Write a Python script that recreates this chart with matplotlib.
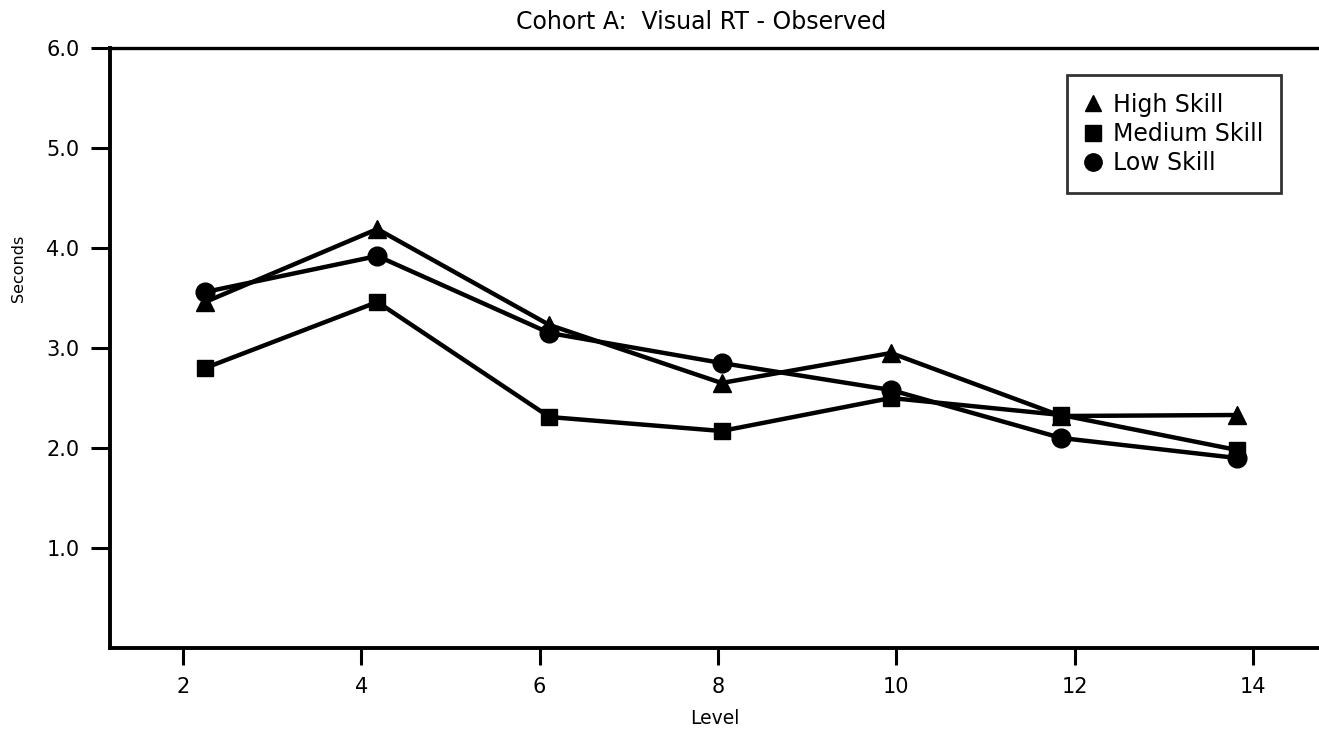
import matplotlib
matplotlib.use("Agg")
import matplotlib.pyplot as plt
from matplotlib.lines import Line2D

# values (x positions as drawn)
level_pos = [2.25, 4.18, 6.11, 8.04, 9.94, 11.85, 13.82]
high_skill = [3.46, 4.19, 3.23, 2.65, 2.95, 2.32, 2.33]
medium_skill = [2.80, 3.46, 2.31, 2.17, 2.50, 2.33, 1.98]
low_skill = [3.56, 3.92, 3.15, 2.85, 2.58, 2.10, 1.90]

x_ticks = [2, 4, 6, 8, 10, 12, 14]
y_ticks = [1, 2, 3, 4, 5, 6]
y_labels = ["1.0", "2.0", "3.0", "4.0", "5.0", "6.0"]

plt.rcParams['font.family'] = ['DejaVu Sans']

W, H = 1319, 730
fig = plt.figure(figsize=(W / 100, H / 100), dpi=100)
ax = fig.add_axes([110 / W, 82 / H, (W - 110) / W, 600 / H])

lw = 3.2
ax.plot(level_pos, high_skill, color='black', lw=lw, marker='^', ms=13, zorder=3)
ax.plot(level_pos, medium_skill, color='black', lw=lw, marker='s', ms=11.5, zorder=3)
ax.plot(level_pos, low_skill, color='black', lw=lw, marker='o', ms=13.5, zorder=3)

ax.set_xlim(1.182, 14.74)
ax.set_ylim(0, 6)
ax.set_xticks(x_ticks)
ax.set_yticks(y_ticks)
ax.set_yticklabels(y_labels)
ax.tick_params(axis='y', length=14, width=2.2, pad=8, labelsize=15)
ax.tick_params(axis='x', length=12, width=2.2, pad=9, labelsize=15)

ax.spines['right'].set_visible(False)
for s in ['left', 'bottom']:
    ax.spines[s].set_linewidth(2.8)
ax.spines['top'].set_linewidth(2.4)

fig.text(701 / W, 1 - 22 / H, "Cohort A:  Visual RT - Observed", ha='center', va='center', fontsize=17)
fig.text(715 / W, 1 - 718 / H, "Level", ha='center', va='center', fontsize=13.5)
fig.text(18 / W, 1 - 268 / H, "Seconds", ha='center', va='center', rotation=90, fontsize=11.5)

handles = [
    Line2D([], [], color='black', marker='^', ls='none', ms=12),
    Line2D([], [], color='black', marker='s', ls='none', ms=11),
    Line2D([], [], color='black', marker='o', ls='none', ms=12.5),
]
leg = ax.legend(handles, ["High Skill", "Medium Skill", "Low Skill"],
                loc='upper left', bbox_to_anchor=(1067 / W, 1 - 75 / H),
                bbox_transform=fig.transFigure, fontsize=17, frameon=True,
                fancybox=False, edgecolor='black', handlelength=0.7,
                handletextpad=0.5, labelspacing=0.22, borderpad=0.75,
                borderaxespad=0)
leg.get_frame().set_linewidth(2.0)

fig.savefig("out.png", dpi=100)
